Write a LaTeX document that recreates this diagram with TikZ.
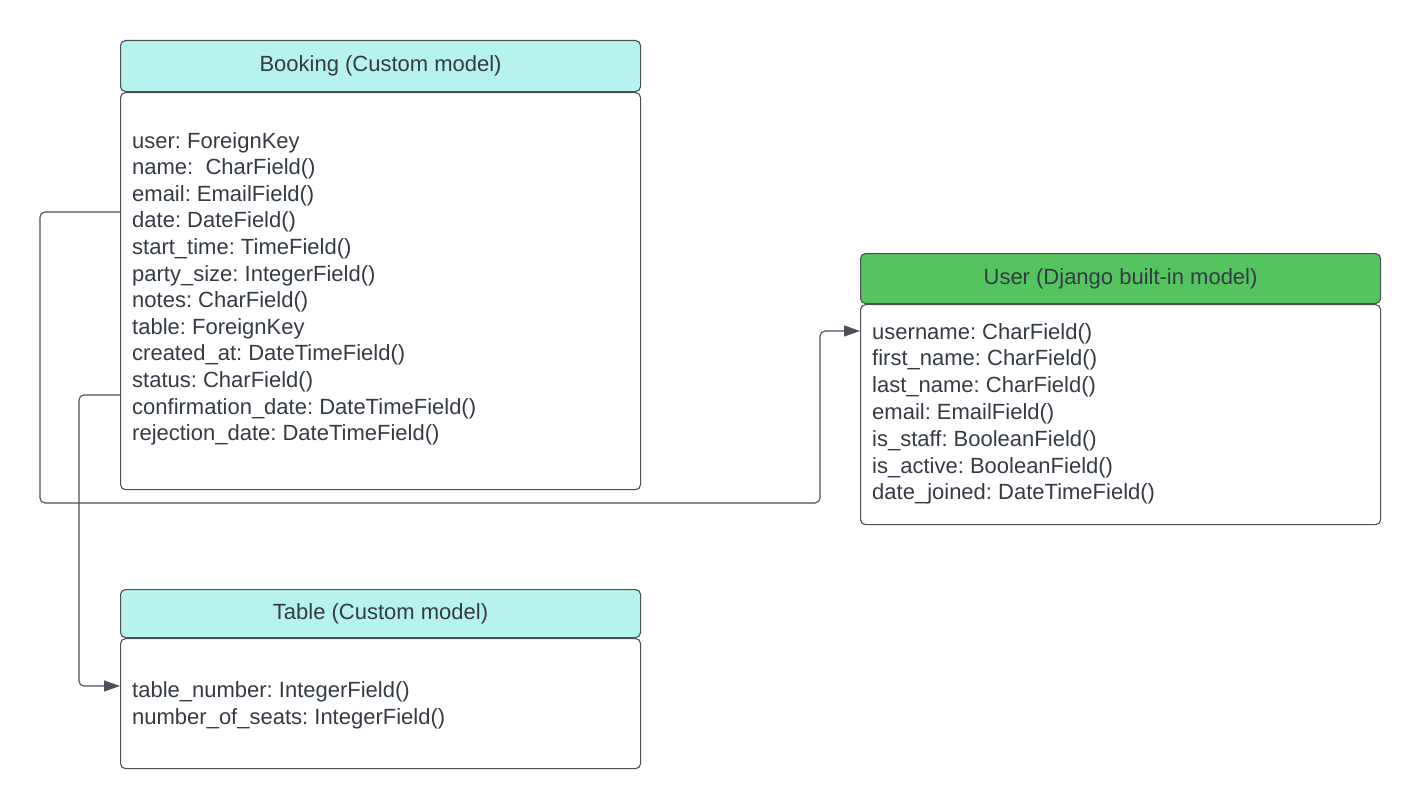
\documentclass[tikz,border=0pt]{standalone}
\usepackage{fontspec}
\setmainfont{Liberation Sans}
\usepackage{tikz}
\usepackage{xcolor}
\usetikzlibrary{arrows.meta, positioning, calc}
\frenchspacing

\definecolor{hdrteal}{HTML}{B5F3EC}
\definecolor{hdrgreen}{HTML}{54C45F}
\definecolor{edgegray}{HTML}{4A4F58}
\definecolor{inkgray}{HTML}{343B45}

\begin{document}
\begin{tikzpicture}[x=1pt, y=-1pt,
    font=\fontsize{22}{26}\selectfont, text=inkgray,
    hdr/.style={draw=edgegray, line width=1.1pt, rounded corners=5pt,
        minimum width=520pt, anchor=north west, inner sep=0pt},
    bodybox/.style={draw=edgegray, line width=1.1pt, rounded corners=5pt,
        minimum width=520pt, anchor=north west, inner sep=0pt},
    field/.style={anchor=base west, inner sep=0pt},
    conn/.style={draw=edgegray, line width=1.1pt, rounded corners=5pt,
        -{Triangle[length=16pt, width=11pt]}}]
\useasboundingbox (0,0) rectangle (1420,808);

% Booking (custom model)
\node[hdr, fill=hdrteal, minimum height=51pt] (bkhead) at (120,40) {Booking (Custom model)};
\node[bodybox, minimum height=397pt] (bkbody) at (bkhead.south west) {};
\foreach \f [count=\i] in {user: ForeignKey, name:\ \ CharField(), email: EmailField(),
    date: DateField(), start\_time: TimeField(), party\_size: IntegerField(),
    notes: CharField(), table: ForeignKey, created\_at: DateTimeField(),
    status: CharField(), confirmation\_date: DateTimeField(),
    rejection\_date: DateTimeField()} {
    \node[field] (bk-\i) at (132,{148+26.6*(\i-1)}) {\f};
}

% User (built-in model)
\node[hdr, fill=hdrgreen, minimum height=50pt] (usrhead) at (860,253) {User (Django built-in model)};
\node[bodybox, minimum height=220pt] (usrbody) at (usrhead.south west) {};
\foreach \f [count=\i] in {username: CharField(), first\_name: CharField(),
    last\_name: CharField(), email: EmailField(), is\_staff: BooleanField(),
    is\_active: BooleanField(), date\_joined: DateTimeField()} {
    \node[field] (usr-\i) at (872,{339+26.8*(\i-1)}) {\f};
}

% Table (custom model)
\node[hdr, fill=hdrteal, minimum height=48pt] (tblhead) at (120,589) {Table (Custom model)};
\node[bodybox, minimum height=130pt] (tblbody) at (tblhead.south west) {};
\foreach \f [count=\i] in {table\_number: IntegerField(), number\_of\_seats: IntegerField()} {
    \node[field] (tbl-\i) at (132,{697+27*(\i-1)}) {\f};
}

% Foreign keys
\coordinate (bk-user-fk) at (bkbody.west |- 0,212);
\coordinate (bk-table-fk) at (bkbody.west |- 0,395);
\draw[conn] (bk-user-fk) -| (40,503) -| (820,331) -- (usrbody.west |- 0,331);
\draw[conn] (bk-table-fk) -| (79,686) -- (tblbody.west |- 0,686);
\end{tikzpicture}
\end{document}
